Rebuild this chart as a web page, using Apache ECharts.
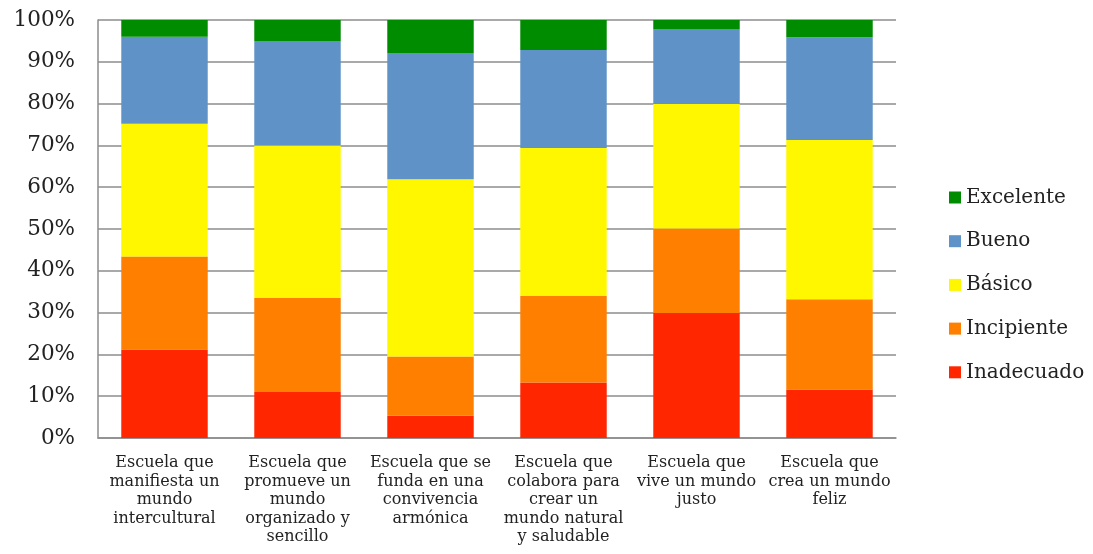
<!DOCTYPE html>
<html>
<head>
<meta charset="utf-8">
<script src="https://cdn.jsdelivr.net/npm/echarts@6/dist/echarts.min.js"></script>
<style>html,body{margin:0;padding:0;background:#fff;}#c{width:1093px;height:554px;}</style>
</head>
<body>
<div id="c"></div>
<script>
const categories = [
  "Escuela que\nmanifiesta un\nmundo\nintercultural",
  "Escuela que\npromueve un\nmundo\norganizado y\nsencillo",
  "Escuela que se\nfunda en una\nconvivencia\narmónica",
  "Escuela que\ncolabora para\ncrear un\nmundo natural\ny saludable",
  "Escuela que\nvive un mundo\njusto",
  "Escuela que\ncrea un mundo\nfeliz"
];
const inadecuado = [21.2, 11.0, 5.3, 13.3, 29.9, 11.6];
const incipiente = [22.2, 22.5, 14.2, 20.7, 20.2, 21.6];
const basico     = [31.8, 36.5, 42.4, 35.4, 29.8, 38.1];
const bueno      = [20.8, 25.0, 30.2, 23.4, 17.8, 24.6];
const excelente  = [4.0, 5.0, 7.9, 7.2, 2.3, 4.1];
const legendOrder = ["Excelente", "Bueno", "Básico", "Incipiente", "Inadecuado"];

const FONT = "DejaVu Serif";
const chart = echarts.init(document.getElementById('c'), null, {renderer: 'canvas'});
function s(name, data, color) {
  return {name: name, type: 'bar', stack: 'total', data: data, barWidth: '65%',
    itemStyle: {color: color}, emphasis: {disabled: true}};
}
chart.setOption({
  animation: false,
  textStyle: {fontFamily: FONT},
  grid: {left: 98, right: 197, top: 20, bottom: 116},
  legend: {
    orient: 'vertical', left: 944, top: 182,
    itemWidth: 12, itemHeight: 12, itemGap: 22.7, icon: 'rect',
    data: legendOrder,
    textStyle: {fontFamily: FONT, fontSize: 20, color: '#222', lineHeight: 21}
  },
  xAxis: {
    type: 'category', data: categories,
    axisLine: {lineStyle: {color: '#8c8c8c', width: 1.5}},
    axisTick: {show: false},
    axisLabel: {interval: 0, fontFamily: FONT, fontSize: 16, color: '#222', lineHeight: 18.5, margin: 16}
  },
  yAxis: {
    type: 'value', min: 0, max: 100, interval: 10,
    axisLine: {show: true, lineStyle: {color: '#8c8c8c', width: 1.5}},
    axisTick: {show: false},
    splitLine: {lineStyle: {color: '#8c8c8c', width: 1.5}},
    axisLabel: {formatter: '{value}%', fontFamily: FONT, fontSize: 21.5, color: '#222', margin: 23}
  },
  series: [
    s('Inadecuado', inadecuado, '#ff2600'),
    s('Incipiente', incipiente, '#ff7f00'),
    s('Básico', basico, '#fff700'),
    s('Bueno', bueno, '#5f92c6'),
    s('Excelente', excelente, '#008c00')
  ]
});
</script>
</body>
</html>
